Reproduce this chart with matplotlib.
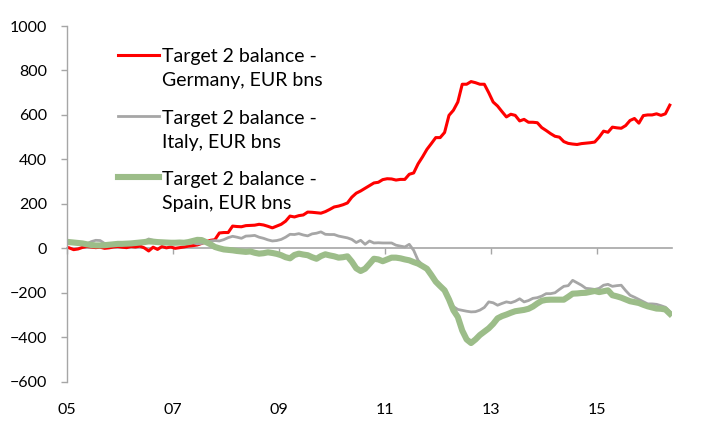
import numpy as np
import matplotlib
matplotlib.use("Agg")
import matplotlib.pyplot as plt
from matplotlib.legend_handler import HandlerLine2D

plt.rcParams['font.family'] = ['Lato', 'DejaVu Sans']

# monthly Target 2 balances, EUR bns, Jan 2005 .. May 2016
germany = [
    2, -6, -3, 4, 8, 6, 3, 5, 0, 2, 6, 8,                       # 2005
    5, 3, 8, 6, 10, 2, -12, 5, -5, 8, 2, 6,                     # 2006
    0, 3, 6, 10, 12, 15, 22, 30, 36, 39, 69, 71,                # 2007
    71, 100, 98, 97, 102, 103, 104, 108, 105, 99, 92, 100,      # 2008
    108, 122, 145, 141, 147, 150, 163, 162, 160, 158, 165, 175, # 2009
    186, 190, 196, 204, 230, 248, 258, 270, 282, 294, 297, 309, # 2010
    313, 312, 307, 310, 310, 333, 339, 380, 411, 445, 471, 498, # 2011
    498, 521, 598, 621, 658, 738, 738, 750, 745, 738, 738, 700, # 2012
    658, 640, 615, 591, 603, 598, 573, 580, 567, 567, 565, 543, # 2013
    530, 516, 504, 500, 480, 472, 469, 467, 471, 473, 475, 478, # 2014
    500, 527, 522, 545, 542, 540, 552, 575, 584, 563, 597, 600, # 2015
    600, 605, 598, 605, 644,                                    # 2016
]
italy = [
    28, 30, 28, 22, 20, 30, 36, 35, 22, 18, 20, 22,
    20, 22, 20, 25, 28, 30, 42, 36, 27, 28, 30, 26,
    24, 27, 28, 25, 25, 20, 22, 25, 33, 35, 33, 39,
    48, 54, 50, 45, 55, 56, 58, 50, 45, 38, 33, 35,
    40, 50, 63, 62, 66, 60, 56, 65, 68, 74, 63, 62,
    62, 55, 51, 47, 40, 26, 36, 18, 33, 24, 25, 24,
    24, 24, 14, 10, 6, 18, -9, -54, -75, -88, -115, -145,
    -165, -185, -225, -262, -275, -279, -283, -286, -285, -278, -266, -241,
    -245, -256, -248, -241, -245, -238, -227, -241, -235, -225, -222, -215,
    -204, -204, -200, -185, -171, -168, -144, -155, -166, -180, -182, -185,
    -180, -166, -162, -171, -168, -166, -190, -211, -220, -230, -240, -250,
    -250, -252, -258, -265, -285,
]
spain = [
    28, 26, 24, 22, 18, 15, 13, 13, 14, 16, 18, 20,
    20, 21, 22, 24, 26, 28, 31, 30, 28, 27, 26, 25,
    25, 26, 25, 28, 33, 38, 37, 28, 18, 6, 0, -5,
    -7, -9, -12, -14, -16, -14, -20, -24, -22, -18, -21, -25,
    -31, -40, -45, -30, -24, -28, -31, -40, -47, -35, -27, -32,
    -36, -42, -40, -36, -60, -90, -102, -92, -70, -47, -50, -58,
    -50, -42, -42, -45, -50, -54, -62, -69, -80, -92, -120, -150,
    -170, -189, -230, -279, -309, -370, -410, -426, -410, -390, -375, -360,
    -340, -315, -305, -298, -290, -283, -280, -277, -272, -262, -248, -236,
    -232, -231, -231, -231, -231, -218, -204, -203, -201, -200, -196, -192,
    -197, -193, -189, -211, -216, -222, -230, -238, -242, -246, -254, -261,
    -266, -271, -272, -275, -294,
]
labels = ['Target 2 balance -\nGermany, EUR bns',
          'Target 2 balance -\nItaly, EUR bns',
          'Target 2 balance -\nSpain, EUR bns']
year_ticks = [2005, 2007, 2009, 2011, 2013, 2015]
year_labels = ['05', '07', '09', '11', '13', '15']

t = 2005 + (np.arange(len(germany)) + 0.5) / 12

axis_grey = '#a6a6a6'


class UpperLine(HandlerLine2D):
    # put the legend line next to the first text row, not the middle
    def create_artists(self, legend, orig_handle, xdescent, ydescent,
                       width, height, fontsize, trans):
        arts = super().create_artists(legend, orig_handle, xdescent, ydescent,
                                      width, height, fontsize, trans)
        for a in arts:
            a.set_ydata(np.asarray(a.get_ydata()) + 0.75 * fontsize)
        return arts


fig = plt.figure(figsize=(7.13, 4.28), dpi=100)
ax = fig.add_axes([67 / 713, 1 - 381.7 / 428, 605 / 713, 355.7 / 428])

ax.plot(t, germany, color='#ff0000', lw=2.2, label=labels[0])
ax.plot(t, italy, color='#a6a6a6', lw=2.0, label=labels[1])
ax.plot(t, spain, color='#9cbd89', lw=4.4, label=labels[2])

ax.set_xlim(2005, 2005 + len(germany) / 12)
ax.set_ylim(-600, 1000)
ax.set_yticks(range(-600, 1001, 200))

for s in ['top', 'right', 'bottom']:
    ax.spines[s].set_visible(False)
ax.spines['left'].set_color(axis_grey)
ax.spines['left'].set_linewidth(1.0)
ax.tick_params(axis='y', direction='out', length=4.3, width=1.0,
               color=axis_grey, pad=10, labelsize=11.5)
ax.set_xticks(year_ticks)
ax.set_xticklabels(year_labels)
ax.tick_params(axis='x', length=0, pad=15, labelsize=11.5)

# zero line with tick marks, labels stay at the bottom
y0, y1 = ax.get_ylim()
sec = ax.secondary_xaxis((0 - y0) / (y1 - y0))
sec.set_xticks(year_ticks)
sec.tick_params(axis='x', direction='out', length=4.3, width=1.0,
                color=axis_grey, labelbottom=False)
sec.spines['bottom'].set_color(axis_grey)
sec.spines['bottom'].set_linewidth(1.2)

leg = ax.legend(loc='upper left', bbox_to_anchor=(0.084, 0.937), frameon=False,
                fontsize=14, handlelength=2.1, handletextpad=0.15,
                labelspacing=1.05, borderpad=0, borderaxespad=0,
                handler_map={matplotlib.lines.Line2D: UpperLine()})
for txt in leg.get_texts():
    txt.set_linespacing(1.5)

fig.savefig('out.png', dpi=100)
